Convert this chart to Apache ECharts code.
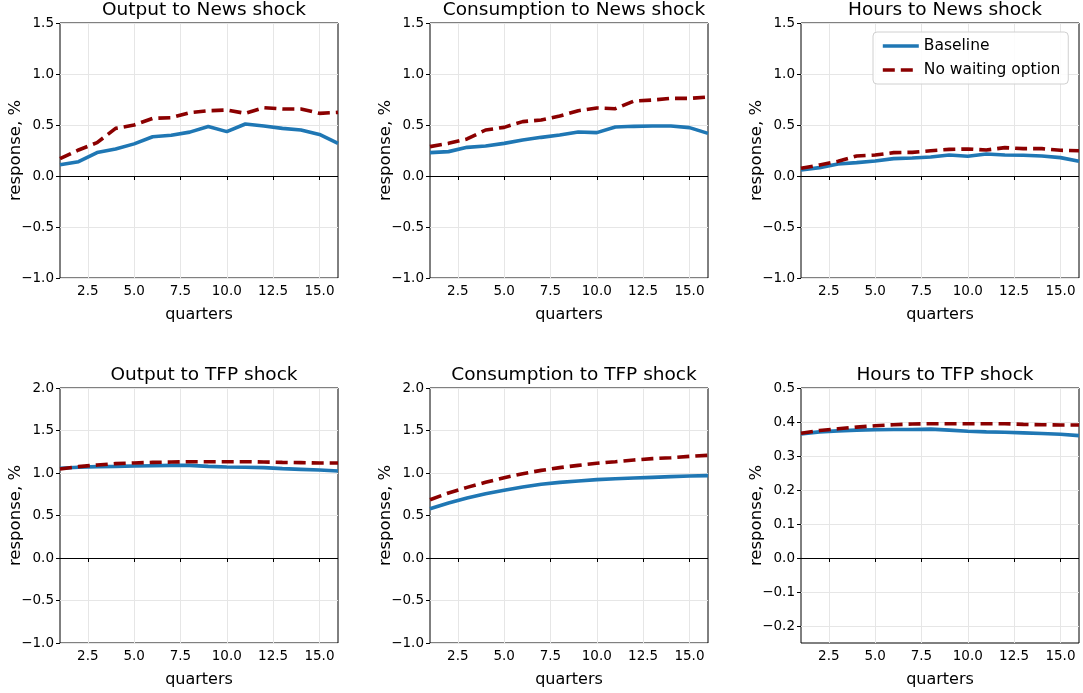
<!DOCTYPE html>
<html>
<head>
<meta charset="utf-8">
<script src="https://cdn.jsdelivr.net/npm/echarts@6/dist/echarts.min.js"></script>
<style>
  html, body { margin: 0; padding: 0; background: #fff; }
  #chart { width: 1083px; height: 693px; }
</style>
</head>
<body>
<div id="chart"></div>
<script>
// quarters on the x axis
const quarters = [1, 2, 3, 4, 5, 6, 7, 8, 9, 10, 11, 12, 13, 14, 15, 16];
const xTicks = [2.5, 5, 7.5, 10, 12.5, 15];

// news shock responses
const outputNewsBase = [0.11, 0.14, 0.23, 0.265, 0.315, 0.385, 0.40, 0.43, 0.485, 0.435, 0.51, 0.49, 0.467, 0.451, 0.408, 0.32];
const outputNewsNoWait = [0.17, 0.255, 0.327, 0.467, 0.50, 0.565, 0.572, 0.621, 0.64, 0.647, 0.614, 0.67, 0.657, 0.657, 0.614, 0.624];
const consNewsBase = [0.229, 0.239, 0.281, 0.294, 0.32, 0.353, 0.379, 0.402, 0.431, 0.425, 0.48, 0.487, 0.49, 0.49, 0.474, 0.418];
const consNewsNoWait = [0.288, 0.32, 0.363, 0.451, 0.477, 0.533, 0.549, 0.588, 0.64, 0.667, 0.66, 0.735, 0.745, 0.761, 0.761, 0.775];
const hoursNewsBase = [0.059, 0.082, 0.118, 0.131, 0.147, 0.17, 0.176, 0.186, 0.206, 0.193, 0.216, 0.206, 0.203, 0.196, 0.18, 0.144];
const hoursNewsNoWait = [0.075, 0.108, 0.144, 0.196, 0.206, 0.229, 0.232, 0.248, 0.261, 0.265, 0.255, 0.278, 0.268, 0.268, 0.252, 0.248];

// TFP shock responses
const outputTfpBase = [1.055, 1.067, 1.075, 1.078, 1.082, 1.086, 1.09, 1.09, 1.078, 1.071, 1.067, 1.063, 1.051, 1.043, 1.035, 1.024];
const outputTfpNoWait = [1.047, 1.075, 1.094, 1.11, 1.118, 1.125, 1.129, 1.133, 1.133, 1.133, 1.133, 1.129, 1.125, 1.122, 1.118, 1.118];
const consTfpBase = [0.58, 0.647, 0.706, 0.757, 0.796, 0.835, 0.867, 0.89, 0.906, 0.922, 0.933, 0.941, 0.949, 0.957, 0.965, 0.969];
const consTfpNoWait = [0.686, 0.765, 0.831, 0.89, 0.945, 0.992, 1.031, 1.063, 1.09, 1.114, 1.133, 1.153, 1.169, 1.18, 1.196, 1.208];
const hoursTfpBase = [0.365, 0.371, 0.374, 0.376, 0.377, 0.378, 0.378, 0.379, 0.376, 0.373, 0.371, 0.37, 0.368, 0.366, 0.364, 0.36];
const hoursTfpNoWait = [0.367, 0.375, 0.38, 0.385, 0.389, 0.392, 0.394, 0.395, 0.395, 0.395, 0.395, 0.395, 0.393, 0.392, 0.391, 0.391];

const titles = ['Output to News shock', 'Consumption to News shock', 'Hours to News shock',
                'Output to TFP shock', 'Consumption to TFP shock', 'Hours to TFP shock'];
const baseSeries = [outputNewsBase, consNewsBase, hoursNewsBase, outputTfpBase, consTfpBase, hoursTfpBase];
const noWaitSeries = [outputNewsNoWait, consNewsNoWait, hoursNewsNoWait, outputTfpNoWait, consTfpNoWait, hoursTfpNoWait];
const yTicksNews = [-1, -0.5, 0, 0.5, 1, 1.5];
const yTicksTfp = [-1, -0.5, 0, 0.5, 1, 1.5, 2];
const yTicksHoursTfp = [-0.2, -0.1, 0, 0.1, 0.2, 0.3, 0.4, 0.5];
const yRanges = [[-1, 1.5], [-1, 1.5], [-1, 1.5], [-1, 2], [-1, 2], [-0.25, 0.5]];
const yTicks = [yTicksNews, yTicksNews, yTicksNews, yTicksTfp, yTicksTfp, yTicksHoursTfp];

const FONT = 'DejaVu Sans';
const lefts = [60, 430, 801];
const tops = [23, 388];
const W = 278, H = 255;

function fmt(v) {
  const s = Math.abs(v).toFixed(1);
  return (v < -1e-9 ? '\u2212' : '') + s;
}

const grid = [], xAxis = [], yAxis = [], series = [], title = [];
for (let i = 0; i < 6; i++) {
  const col = i % 3, row = Math.floor(i / 3);
  grid.push({
    left: lefts[col], top: tops[row], width: W, height: H,
    show: true, borderColor: '#000', borderWidth: 1, backgroundColor: 'transparent'
  });
  title.push({
    text: titles[i],
    left: lefts[col] + W / 2, top: tops[row] - 27, textAlign: 'center',
    textStyle: { fontFamily: FONT, fontSize: 18.5, fontWeight: 'normal', color: '#000' }
  });
  xAxis.push({
    type: 'value', gridIndex: i, min: 1, max: 16,
    name: 'quarters', nameLocation: 'middle', nameGap: 29,
    nameTextStyle: { fontFamily: FONT, fontSize: 16, color: '#000' },
    axisLine: { show: false },
    axisTick: { show: true, inside: false, length: 4, customValues: xTicks, lineStyle: { color: '#000' } },
    axisLabel: { customValues: xTicks, formatter: fmt, fontFamily: FONT, fontSize: 13.5, color: '#000', margin: 6 },
    splitLine: { show: true, lineStyle: { color: '#e6e6e6', width: 1 } }
  });
  yAxis.push({
    type: 'value', gridIndex: i, min: yRanges[i][0], max: yRanges[i][1],
    name: 'response, %', nameLocation: 'middle', nameGap: 36, nameMoveOverlap: false,
    nameTextStyle: { fontFamily: FONT, fontSize: 16.5, color: '#000' },
    axisLine: { show: false },
    axisTick: { show: true, inside: false, length: 4, customValues: yTicks[i], lineStyle: { color: '#000' } },
    axisLabel: { customValues: yTicks[i], formatter: fmt, fontFamily: FONT, fontSize: 13.5, color: '#000', margin: 6 },
    splitLine: { show: true, lineStyle: { color: '#e6e6e6', width: 1 } }
  });
  series.push({
    name: 'Baseline', type: 'line', xAxisIndex: i, yAxisIndex: i,
    data: quarters.map((q, k) => [q, baseSeries[i][k]]),
    showSymbol: false, symbol: 'none', z: 3,
    lineStyle: { color: '#1f77b4', width: 3.6 }, itemStyle: { color: '#1f77b4' },
    markLine: {
      silent: true, symbol: 'none', label: { show: false },
      lineStyle: { color: '#000', width: 1, type: 'solid' },
      data: [{ yAxis: 0 }]
    }
  });
  series.push({
    name: 'No waiting option', type: 'line', xAxisIndex: i, yAxisIndex: i,
    data: quarters.map((q, k) => [q, noWaitSeries[i][k]]),
    showSymbol: false, symbol: 'none', z: 4,
    lineStyle: { color: '#8b0000', width: 3.6, type: [12, 6] }, itemStyle: { color: '#8b0000' }
  });
}

const chart = echarts.init(document.getElementById('chart'), null, { renderer: 'canvas' });
chart.setOption({
  animation: false,
  backgroundColor: '#fff',
  title: title,
  legend: {
    data: ['Baseline', 'No waiting option'],
    orient: 'vertical', left: 873, top: 32,
    itemWidth: 36, itemHeight: 12, itemGap: 8,
    padding: [6, 8, 6, 8],
    itemStyle: { opacity: 0 },
    lineStyle: { width: 3.6 },
    backgroundColor: 'rgba(255,255,255,0.85)',
    borderColor: '#d0d0d0', borderWidth: 1, borderRadius: 4,
    textStyle: { fontFamily: FONT, fontSize: 15.5, color: '#000' }
  },
  grid: grid,
  xAxis: xAxis,
  yAxis: yAxis,
  series: series
});
</script>
</body>
</html>
